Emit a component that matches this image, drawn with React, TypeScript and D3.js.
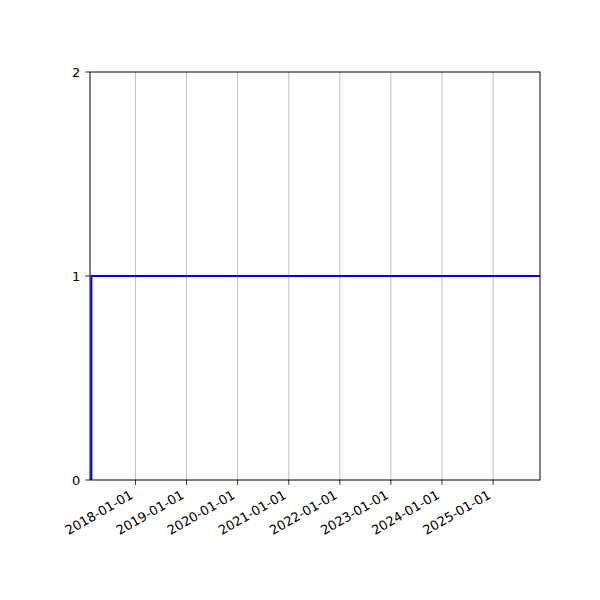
import { useMemo } from "react"
import * as d3 from "d3"

// Step series: value changes from 0 to 1 in early 2017 and stays there.
const DATES = ["2017-02-10", "2017-02-20", "2025-12-02"]
const VALUES = [0, 1, 1]
const X_DOMAIN = ["2017-02-10", "2025-12-02"]
const X_TICKS = [
  "2018-01-01",
  "2019-01-01",
  "2020-01-01",
  "2021-01-01",
  "2022-01-01",
  "2023-01-01",
  "2024-01-01",
  "2025-01-01",
]
const Y_TICKS = [0, 1, 2]

const W = 600
const H = 600
const M = { top: 72, right: 60, bottom: 120, left: 90 }
const FONT = "DejaVu Sans, sans-serif"
const FS = 13

export default function App() {
  const parse = d3.utcParse("%Y-%m-%d")
  const x = useMemo(
    () =>
      d3
        .scaleUtc()
        .domain(X_DOMAIN.map((d) => parse(d) as Date))
        .range([M.left, W - M.right]),
    []
  )
  const y = useMemo(
    () => d3.scaleLinear().domain([0, 2]).range([H - M.bottom, M.top]),
    []
  )

  const points = DATES.map((d, i) => ({ date: parse(d) as Date, v: VALUES[i] }))
  const line = d3
    .line<{ date: Date; v: number }>()
    .x((d) => x(d.date))
    .y((d) => y(d.v))
    .curve(d3.curveStepAfter)

  const x0 = M.left
  const x1 = W - M.right
  const y0 = H - M.bottom
  const y1 = M.top

  // rotated label anchor: end of baseline, so the rotated box's top-right sits under the tick
  const descent = 0.24 * FS
  const ascent = 0.76 * FS
  const labelDx = -0.5 * descent
  const labelDy = 9 + 0.866 * ascent

  return (
    <div style={{ position: "absolute", left: 0, top: 0 }}>
      <svg width={W} height={H} style={{ display: "block", background: "#fff" }}>
        <defs>
          <clipPath id="plot">
            <rect x={x0} y={y1} width={x1 - x0} height={y0 - y1} />
          </clipPath>
        </defs>

        {/* vertical grid */}
        <g>
          {X_TICKS.map((t) => {
            const px = x(parse(t) as Date)
            return (
              <line
                key={t}
                x1={px}
                x2={px}
                y1={y1}
                y2={y0}
                stroke="#b0b0b0"
                strokeWidth={0.8}
              />
            )
          })}
        </g>

        <path
          d={line(points) ?? undefined}
          fill="none"
          stroke="#0000ff"
          strokeWidth={2}
          clipPath="url(#plot)"
        />

        {/* frame */}
        <rect
          x={x0}
          y={y1}
          width={x1 - x0}
          height={y0 - y1}
          fill="none"
          stroke="#000"
          strokeWidth={1}
        />

        {/* x ticks */}
        <g fontFamily={FONT} fontSize={FS}>
          {X_TICKS.map((t) => {
            const px = x(parse(t) as Date)
            return (
              <g key={t}>
                <line x1={px} x2={px} y1={y0} y2={y0 + 4.9} stroke="#000" strokeWidth={0.8} />
                <text
                  transform={`translate(${px + labelDx},${y0 + labelDy}) rotate(-30)`}
                  textAnchor="end"
                  fill="#000"
                >
                  {t}
                </text>
              </g>
            )
          })}
        </g>

        {/* y ticks */}
        <g fontFamily={FONT} fontSize={FS}>
          {Y_TICKS.map((t) => (
            <g key={t}>
              <line x1={x0 - 4.9} x2={x0} y1={y(t)} y2={y(t)} stroke="#000" strokeWidth={0.8} />
              <text x={x0 - 9.7} y={y(t)} dy="0.36em" textAnchor="end" fill="#000">
                {t}
              </text>
            </g>
          ))}
        </g>
      </svg>
    </div>
  )
}
